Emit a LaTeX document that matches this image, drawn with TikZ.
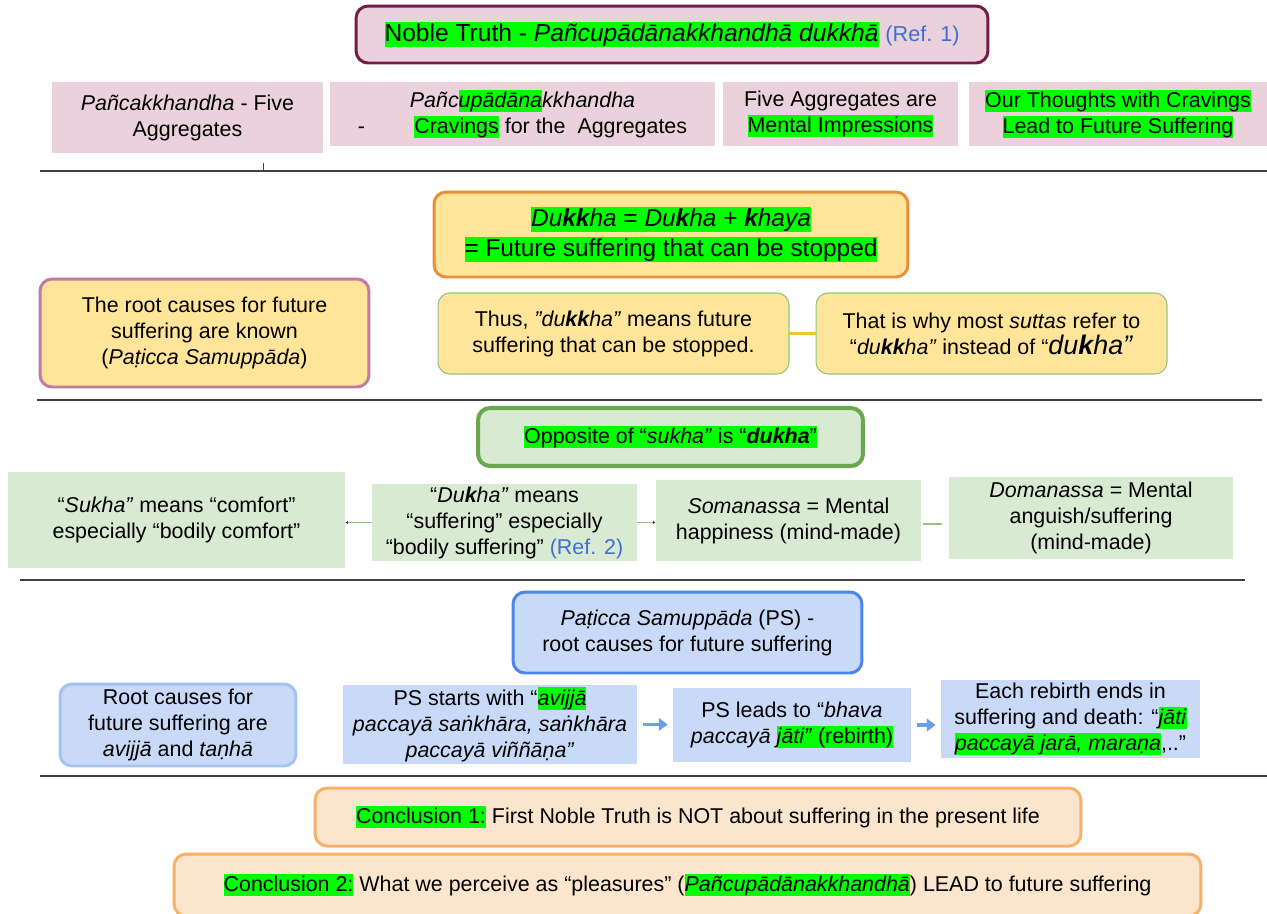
\documentclass[tikz,border=0pt]{standalone}
\usepackage{fontspec}
\setmainfont{Liberation Sans}
\usetikzlibrary{arrows.meta}
\definecolor{hlGreen}{HTML}{00FF00}
\definecolor{refBlue}{HTML}{3C6FD6}
\definecolor{ntPink}{HTML}{EAD1DC}
\definecolor{ntPlum}{HTML}{741B47}
\definecolor{dkYellow}{HTML}{FFE599}
\definecolor{dkOrange}{HTML}{E69138}
\definecolor{dkMauve}{HTML}{C27BA0}
\definecolor{dkGold}{HTML}{F1C232}
\definecolor{skGreen}{HTML}{D9EAD3}
\definecolor{skDark}{HTML}{6AA84F}
\definecolor{skLine}{HTML}{93C47D}
\definecolor{psBlue}{HTML}{C9DAF8}
\definecolor{psEdge}{HTML}{4A86E8}
\definecolor{psSoft}{HTML}{A4C2F4}
\definecolor{psArrow}{HTML}{6D9EEB}
\definecolor{ccPeach}{HTML}{FCE5CD}
\definecolor{ccEdge}{HTML}{F6B26B}
\definecolor{sepGray}{HTML}{404040}
\newcommand{\hlg}[1]{{\setlength{\fboxsep}{0pt}\colorbox{hlGreen}{\rule[-0.22em]{0pt}{1.04em}#1}}}
\newcommand{\refnote}[1]{\textcolor{refBlue}{#1}}

\begin{document}
\begin{tikzpicture}[x=0.02cm, y=-0.02cm,
  txtbox/.style={align=center, inner sep=1.5pt, font=\fontsize{12.2}{14.8}\selectfont},
  flat/.style={txtbox, fill=#1},
  rbox/.style 2 args={txtbox, rounded corners=0.24cm, fill=#1, draw=#2, line width=1.7pt},
  sepline/.style={sepGray, line width=1.1pt},
  tinylink/.style={skLine, line width=0.8pt, -{Latex[length=1.6pt, width=2pt, color=sepGray]}},
  psarrow/.style={psArrow, line width=2pt, -{Triangle[length=5pt, width=7pt]}, shorten <=0.12cm, shorten >=0.1cm}]
\useasboundingbox (0,0) rectangle (1267,913);
\clip (0,0) rectangle (1267,913);
\fill[white] (0,0) rectangle (1267,913);

% title and the four aggregates notes
\node[rbox={ntPink}{ntPlum}, minimum width=12.64cm, minimum height=1.14cm, font=\fontsize{14}{16}\selectfont] (title) at (672,34.5)
  {\hlg{Noble Truth - \textit{Pañcupādānakkhandhā dukkhā}} {\fontsize{12.3}{14}\selectfont\refnote{(Ref. 1)}}};
\node[flat=ntPink, minimum width=5.42cm, minimum height=1.42cm] (aggr) at (187.5,117.5) {\textit{Pañcakkhandha} - Five\\Aggregates};
\node[flat=ntPink, minimum width=7.7cm, minimum height=1.28cm] (crave) at (522.5,114) {\textit{Pañc\hlg{upādāna}kkhandha}\\-\hspace{2.3em}\hlg{Cravings} for the\ \ Aggregates};
\node[flat=ntPink, minimum width=4.7cm, minimum height=1.28cm] (mental) at (840.5,114) {Five Aggregates are\\\hlg{Mental Impressions}};
\node[flat=ntPink, minimum width=5.96cm, minimum height=1.28cm] (future) at (1118,114) {\hlg{Our Thoughts with Cravings}\\\hlg{Lead to Future Suffering}};
\draw[sepGray, line width=0.5pt] (263,163) -- (263,170);

% separators
\foreach \sy/\sa/\sb in {171/40/1267, 400/37/1262, 580/20/1245, 776/40/1267}
  {\draw[sepline] (\sa,\sy) -- (\sb,\sy);}

% dukkha block
\node[rbox={dkYellow}{dkOrange}, minimum width=9.48cm, minimum height=1.7cm, font=\fontsize{13.9}{17}\selectfont] (dukkha) at (671,234.5)
  {\hlg{\textit{Du\textbf{kk}ha} = \textit{Du\textbf{k}ha} + \textit{\textbf{k}haya}}\\\hlg{= Future suffering that can be stopped}};
\node[rbox={dkYellow}{dkMauve}, minimum width=6.58cm, minimum height=2.16cm] (known) at (204.5,333)
  {The root causes for future\\suffering are known\\(\textit{Paṭicca Samuppāda})};
\node[rbox={dkYellow}{skLine}, line width=0.6pt, minimum width=7.02cm, minimum height=1.62cm] (thus) at (613.5,333.5)
  {Thus, \textit{”du\textbf{kk}ha”} means future\\suffering that can be stopped.};
\node[rbox={dkYellow}{skLine}, line width=0.6pt, minimum width=7.02cm, minimum height=1.62cm] (suttas) at (991.5,333.5)
  {That is why most \textit{suttas} refer to\\“\textit{du\textbf{kk}ha”} instead of “{\fontsize{15.3}{15}\selectfont\textit{du\textbf{k}ha”}}};
\draw[dkGold, line width=1.2pt] (thus) -- (suttas);

% sukha / dukha block
\node[rbox={skGreen}{skDark}, line width=2.3pt, minimum width=7.7cm, minimum height=1.16cm] (opposite) at (670.5,437)
  {\hlg{Opposite of “\textit{sukha”} is “\textit{\textbf{dukha}}”}};
\node[flat=skGreen, minimum width=6.74cm, minimum height=1.92cm] (sukha) at (176.5,520) {“\textit{Sukha”} means “comfort”\\especially “bodily comfort”};
\node[flat=skGreen, minimum width=5.3cm, minimum height=1.5cm] (dukha) at (504.5,522.5) {“\textit{Du\textbf{k}ha”} means\\“suffering” especially\\“bodily suffering” \refnote{(Ref. 2)}};
\node[flat=skGreen, minimum width=5.3cm, minimum height=1.62cm] (somanassa) at (788.5,520.5) {\textit{Somanassa} = Mental\\happiness (mind-made)};
\node[flat=skGreen, minimum width=5.68cm, minimum height=1.64cm] (domanassa) at (1091,518) {\textit{Domanassa} = Mental\\anguish/suffering\\(mind-made)};
\draw[tinylink] (dukha.west) -- (dukha.west -| sukha.east);
\draw[tinylink] (dukha.east) -- (dukha.east -| somanassa.west);
\draw[skLine, line width=0.8pt, shorten <=0.04cm, shorten >=0.14cm] ([yshift=-0.07cm]somanassa.east) -- ([yshift=-0.07cm]somanassa.east -| domanassa.west);

% paticca samuppada block
\node[rbox={psBlue}{psEdge}, minimum width=6.98cm, minimum height=1.62cm] (ps) at (687.5,632.5)
  {\textit{Paṭicca Samuppāda} (PS) -\\root causes for future suffering};
\node[rbox={psBlue}{psSoft}, minimum width=4.72cm, minimum height=1.64cm] (rootc) at (178,725)
  {Root causes for\\future suffering are\\\textit{avijjā} and \textit{taṇhā}};
\node[flat=psBlue, minimum width=5.88cm, minimum height=1.5cm] (psstart) at (490,724.5)
  {PS starts with “\hlg{\textit{avijjā}}\\\textit{paccayā saṅkhāra, saṅkhāra}\\\textit{paccayā viññāṇa”}};
\node[flat=psBlue, minimum width=4.76cm, minimum height=1.48cm] (pslead) at (792,725)
  {PS leads to “\textit{bhava}\\\textit{paccayā} \hlg{\textit{jāti”} (rebirth)}};
\node[flat=psBlue, minimum width=5.18cm, minimum height=1.48cm] (rebirth) at (1070.5,719)
  {Each rebirth ends in\\suffering and death: “\hlg{\textit{jāti}}\\\hlg{\textit{paccayā jarā, maraṇa}},..”};
\draw[psarrow] (psstart.east) -- (psstart.east -| pslead.west);
\draw[psarrow] (pslead.east) -- (pslead.east -| rebirth.west);

% conclusions
\node[rbox={ccPeach}{ccEdge}, minimum width=15.32cm, minimum height=1.16cm] (concl1) at (698,817)
  {\hlg{Conclusion 1:} First Noble Truth is NOT about suffering in the present life};
\node[rbox={ccPeach}{ccEdge}, minimum width=20.54cm, minimum height=1.24cm] (concl2) at (687.5,885)
  {\hlg{Conclusion 2:} What we perceive as “pleasures” (\hlg{\textit{Pañcupādānakkhandhā}}) LEAD to future suffering};
\end{tikzpicture}
\end{document}
